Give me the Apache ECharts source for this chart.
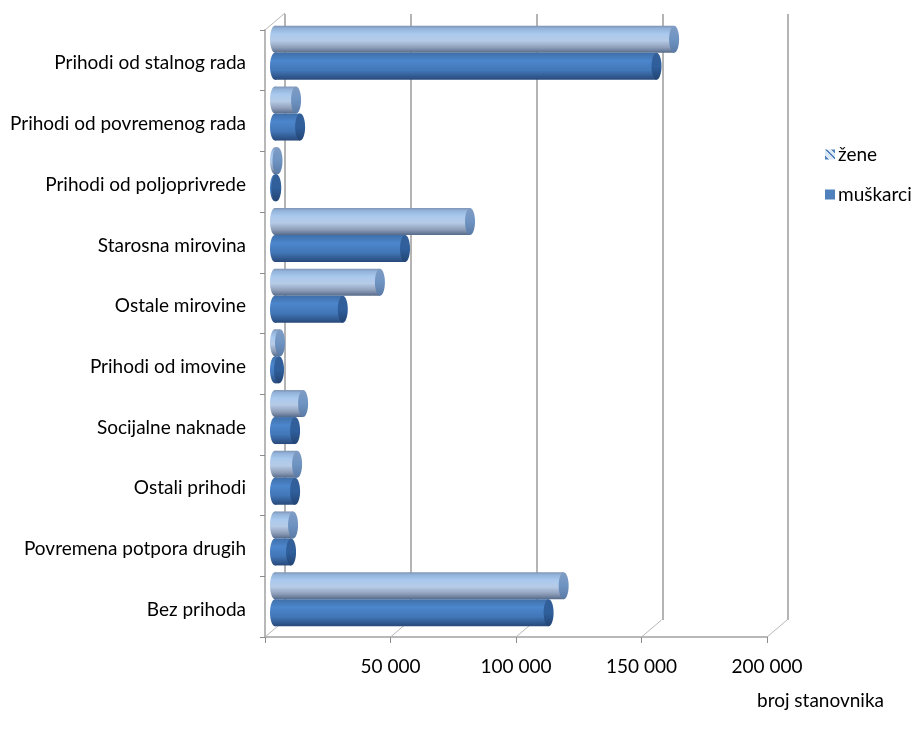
<!DOCTYPE html>
<html><head><meta charset="utf-8">
<style>html,body{margin:0;padding:0;background:#fff}#c{width:918px;height:738px}</style>
<script src="https://cdn.jsdelivr.net/npm/echarts@6/dist/echarts.min.js"></script>
</head><body><div id="c"></div>
<script>
const categories = ['Prihodi od stalnog rada','Prihodi od povremenog rada','Prihodi od poljoprivrede','Starosna mirovina','Ostale mirovine','Prihodi od imovine','Socijalne naknade','Ostali prihodi','Povremena potpora drugih','Bez prihoda'];
const zene = [159000,8400,1000,77700,41800,2000,11200,8800,7200,115000];
const muskarci = [152000,10000,500,51800,27000,1600,8000,8000,6400,109000];
const xTicks = [0,50000,100000,150000,200000];
const xTickLabels = ['', '50 000','100 000','150 000','200 000'];
const FONT = 'Lato';
const FS = 19;
const AXIS = '#b8b8b8';
const DEPTH_X = 20, DEPTH_Y = -17;

const vGrad = stops => ({type:'linear',x:0,y:0,x2:0,y2:1,colorStops:stops.map(s=>({offset:s[0],color:s[1]}))});
const styles = {
  z:{body:vGrad([[0,'#7e93b3'],[.1,'#94b3da'],[.3,'#aac9ee'],[.55,'#b6cbe6'],[.8,'#8f9fba'],[1,'#566b8a']]),
     cap:vGrad([[0,'#7f9cc4'],[.5,'#6f94c2'],[1,'#5a7aa5']]), off:-13.5},
  m:{body:vGrad([[0,'#3f6fa9'],[.3,'#4c86cc'],[.65,'#4277b8'],[1,'#28497a']]),
     cap:vGrad([[0,'#345f98'],[.5,'#2f5f9c'],[1,'#234473']]), off:13.5}
};
function barRender(st){
  return function(params, api){
    const v = api.value(0), c = api.value(1);
    const o = api.coord([0,c]), e = api.coord([v,c]);
    const cy = o[1] + st.off + DEPTH_Y/2 + 1, h = 27, rx = 5;
    const x0 = o[0] + DEPTH_X/2, x1 = e[0] + DEPTH_X/2;
    return {type:'group',children:[
      {type:'ellipse',shape:{cx:x0,cy:cy,rx:rx,ry:h/2},style:{fill:st.body}},
      {type:'rect',shape:{x:x0,y:cy-h/2,width:Math.max(x1-x0,0),height:h},style:{fill:st.body}},
      {type:'ellipse',shape:{cx:x1,cy:cy,rx:rx,ry:h/2},style:{fill:st.cap}}
    ]};
  };
}
const diagRender = (params, api) => {
  const p = api.coord([api.value(0), categories.length-1]);
  const bottom = api.size([0,1])[1]*0.5 + p[1];
  return {type:'line',shape:{x1:p[0],y1:bottom,x2:p[0]+DEPTH_X,y2:bottom+DEPTH_Y},style:{stroke:AXIS,lineWidth:1}};
};
const topDiagRender = (params, api) => {
  const p = api.coord([0,0]);
  const top = p[1]-api.size([0,1])[1]*0.5;
  return {type:'line',shape:{x1:p[0],y1:top,x2:p[0]+DEPTH_X,y2:top+DEPTH_Y},style:{stroke:AXIS,lineWidth:1}};
};

const chart = echarts.init(document.getElementById('c'),null,{renderer:'canvas'});
chart.setOption({
  animation:false,
  backgroundColor:'#fff',
  title:{text:'broj stanovnika',left:757,top:691,padding:0,textStyle:{fontFamily:FONT,fontSize:FS,fontWeight:'normal',color:'#000'}},
  legend:{
    left:820,top:140,orient:'vertical',itemWidth:10,itemHeight:10,itemGap:21,
    textStyle:{fontFamily:FONT,fontSize:FS,color:'#000',padding:[0,0,0,-2]},
    data:[
      {name:'žene',icon:'rect',itemStyle:{color:{type:'linear',x:0,y:1,x2:1,y2:0,colorStops:[
        {offset:0,color:'#4f81bd'},{offset:.22,color:'#4f81bd'},{offset:.22,color:'#dce8f6'},{offset:.5,color:'#dce8f6'},
        {offset:.5,color:'#4f81bd'},{offset:.62,color:'#4f81bd'},{offset:.62,color:'#dce8f6'},{offset:.8,color:'#dce8f6'},{offset:.8,color:'#4f81bd'},{offset:1,color:'#4f81bd'}]}}},
      {name:'muškarci',icon:'rect',itemStyle:{color:'#4f81bd'}}
    ]
  },
  grid:[
    {left:265,right:151,top:30,bottom:101},
    {left:285,right:130,top:14,bottom:118}
  ],
  xAxis:[
    {gridIndex:0,type:'value',min:0,max:200000,interval:50000,
     axisLine:{show:true,lineStyle:{color:AXIS,width:2}},
     axisTick:{show:true,length:6,lineStyle:{color:'#8c8c8c'}},
     splitLine:{show:false},
     axisLabel:{margin:20,fontFamily:FONT,fontSize:FS,color:'#000',
       formatter:v=>xTickLabels[xTicks.indexOf(v)]}},
    {gridIndex:1,type:'value',min:0,max:200000,interval:50000,
     axisLine:{show:false},axisTick:{show:false},axisLabel:{show:false},
     splitLine:{show:true,lineStyle:{color:'#b4b4b4',width:2}}}
  ],
  yAxis:[
    {gridIndex:0,type:'category',inverse:true,data:categories,
     axisLine:{show:true,lineStyle:{color:AXIS,width:2}},
     axisTick:{show:true,length:5,lineStyle:{color:'#8c8c8c'}},
     axisLabel:{margin:19,fontFamily:FONT,fontSize:FS,color:'#000',verticalAlign:'top',lineHeight:6}},
    {gridIndex:1,type:'category',inverse:true,data:categories,show:false}
  ],
  series:[
    {type:'custom',name:'diag',xAxisIndex:0,yAxisIndex:0,silent:true,z:1,renderItem:diagRender,data:xTicks.map(v=>[v]),encode:{x:0}},
    {type:'custom',name:'diagTop',xAxisIndex:0,yAxisIndex:0,silent:true,z:1,renderItem:topDiagRender,data:[[0]],encode:{x:0}},
    {type:'custom',name:'žene',xAxisIndex:0,yAxisIndex:0,z:3,itemStyle:{color:'#4f81bd'},renderItem:barRender(styles.z),
      data:zene.map((v,i)=>[v,i]),encode:{x:0,y:1}},
    {type:'custom',name:'muškarci',xAxisIndex:0,yAxisIndex:0,z:4,itemStyle:{color:'#4f81bd'},renderItem:barRender(styles.m),
      data:muskarci.map((v,i)=>[v,i]),encode:{x:0,y:1}}
  ]
});
</script></body></html>
